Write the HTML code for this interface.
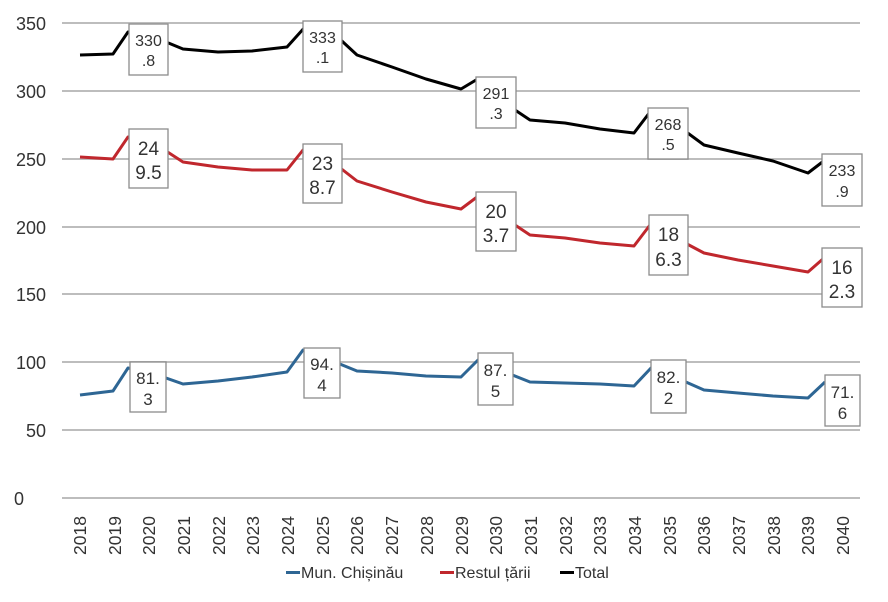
<!DOCTYPE html>
<html><head><meta charset="utf-8"><style>
body{margin:0;background:#fff;}
svg{display:block;font-family:"Liberation Sans",sans-serif;}
.lb rect{fill:#fff;stroke:#8c8c8c;stroke-width:1.3;}
.lb text{fill:#333;text-anchor:middle;}
</style></head><body>
<svg width="888" height="602" viewBox="0 0 888 602">
<g stroke="#bdbdbd" stroke-width="2">
<line x1="62" x2="860" y1="23" y2="23"/><line x1="62" x2="860" y1="91" y2="91"/>
<line x1="62" x2="860" y1="159" y2="159"/><line x1="62" x2="860" y1="227" y2="227"/>
<line x1="62" x2="860" y1="294" y2="294"/><line x1="62" x2="860" y1="362" y2="362"/>
<line x1="62" x2="860" y1="430" y2="430"/><line x1="62" x2="860" y1="498" y2="498"/>
</g>
<g font-size="18" fill="#333" text-anchor="end">
<text x="46" y="30">350</text><text x="46" y="98">300</text><text x="46" y="166">250</text>
<text x="46" y="234">200</text><text x="46" y="301">150</text><text x="46" y="369">100</text>
<text x="46" y="437">50</text><text x="24" y="505">0</text>
</g>
<g fill="none" stroke-width="3" stroke-linejoin="round">
<polyline stroke="#000" points="80,55 113,54 128,32 149,35 183,49 218,52 252,51 287,47 305,27 330,30 357,55 392,67 426,79 461,89 476,80 500,100 530,120 565,123 600,129 634,133 650,112 670,120 704,145 738,153 773,161 808,173 825,160"/>
<polyline stroke="#c0272d" points="80,157 113,159 128,137 149,140 183,162 218,167 252,170 287,170 303,150 330,160 357,181 392,192 426,202 461,209 477,197 500,215 530,235 565,238 600,243 634,246 650,225 670,235 704,253 738,260 773,266 808,272 824,258"/>
<polyline stroke="#2e6694" points="80,395 113,391 128,368 149,372 183,384 218,381 252,377 287,372 303,350 330,360 357,371 392,373 426,376 461,377 478,360 500,370 530,382 565,383 600,384 634,386 651,368 670,375 704,390 738,393 773,396 808,398 825,382"/>
</g>
<g class="lb" font-size="16">
<rect x="129" y="24" width="39" height="51"/><text x="148.5" y="46">330</text><text x="148.5" y="66">.8</text>
<rect x="303" y="21" width="39" height="51"/><text x="322.5" y="43">333</text><text x="322.5" y="63">.1</text>
<rect x="476" y="77" width="40" height="51"/><text x="496" y="99">291</text><text x="496" y="119">.3</text>
<rect x="648" y="108" width="40" height="51"/><text x="668" y="130">268</text><text x="668" y="150">.5</text>
<rect x="822" y="154" width="40" height="52"/><text x="842" y="176">233</text><text x="842" y="197">.9</text>
</g>
<g class="lb" font-size="19">
<rect x="129" y="129" width="39" height="59"/><text x="148.5" y="155">24</text><text x="148.5" y="179">9.5</text>
<rect x="303" y="144" width="39" height="59"/><text x="322.5" y="170">23</text><text x="322.5" y="194">8.7</text>
<rect x="476" y="192" width="40" height="59"/><text x="496" y="218">20</text><text x="496" y="242">3.7</text>
<rect x="649" y="215" width="39" height="60"/><text x="668.5" y="241">18</text><text x="668.5" y="266">6.3</text>
<rect x="822" y="248" width="40" height="59"/><text x="842" y="274">16</text><text x="842" y="298">2.3</text>
</g>
<g class="lb" font-size="17">
<rect x="130" y="362" width="36" height="50"/><text x="148" y="384">81.</text><text x="148" y="405">3</text>
<rect x="304" y="348" width="36" height="50"/><text x="322" y="370">94.</text><text x="322" y="391">4</text>
<rect x="478" y="353" width="35" height="52"/><text x="495.5" y="376">87.</text><text x="495.5" y="397">5</text>
<rect x="651" y="360" width="35" height="53"/><text x="668.5" y="383">82.</text><text x="668.5" y="404">2</text>
<rect x="825" y="375" width="35" height="51"/><text x="842.5" y="398">71.</text><text x="842.5" y="419">6</text>
</g>
<g font-size="17.5" fill="#333" text-anchor="end">
<text transform="translate(86,516) rotate(-90)">2018</text>
<text transform="translate(121,516) rotate(-90)">2019</text>
<text transform="translate(155,516) rotate(-90)">2020</text>
<text transform="translate(190,516) rotate(-90)">2021</text>
<text transform="translate(225,516) rotate(-90)">2022</text>
<text transform="translate(259,516) rotate(-90)">2023</text>
<text transform="translate(294,516) rotate(-90)">2024</text>
<text transform="translate(329,516) rotate(-90)">2025</text>
<text transform="translate(363,516) rotate(-90)">2026</text>
<text transform="translate(398,516) rotate(-90)">2027</text>
<text transform="translate(433,516) rotate(-90)">2028</text>
<text transform="translate(468,516) rotate(-90)">2029</text>
<text transform="translate(502,516) rotate(-90)">2030</text>
<text transform="translate(537,516) rotate(-90)">2031</text>
<text transform="translate(572,516) rotate(-90)">2032</text>
<text transform="translate(606,516) rotate(-90)">2033</text>
<text transform="translate(641,516) rotate(-90)">2034</text>
<text transform="translate(676,516) rotate(-90)">2035</text>
<text transform="translate(710,516) rotate(-90)">2036</text>
<text transform="translate(745,516) rotate(-90)">2037</text>
<text transform="translate(780,516) rotate(-90)">2038</text>
<text transform="translate(814,516) rotate(-90)">2039</text>
<text transform="translate(849,516) rotate(-90)">2040</text>
</g>
<g font-size="16" fill="#333">
<rect x="286" y="571" width="14" height="3" fill="#2e6694"/><text x="301" y="578">Mun. Chișinău</text>
<rect x="440" y="571" width="14" height="3" fill="#c0272d"/><text x="455" y="578">Restul țării</text>
<rect x="560" y="571" width="14" height="3" fill="#000"/><text x="575" y="578">Total</text>
</g>
</svg>
</body></html>
